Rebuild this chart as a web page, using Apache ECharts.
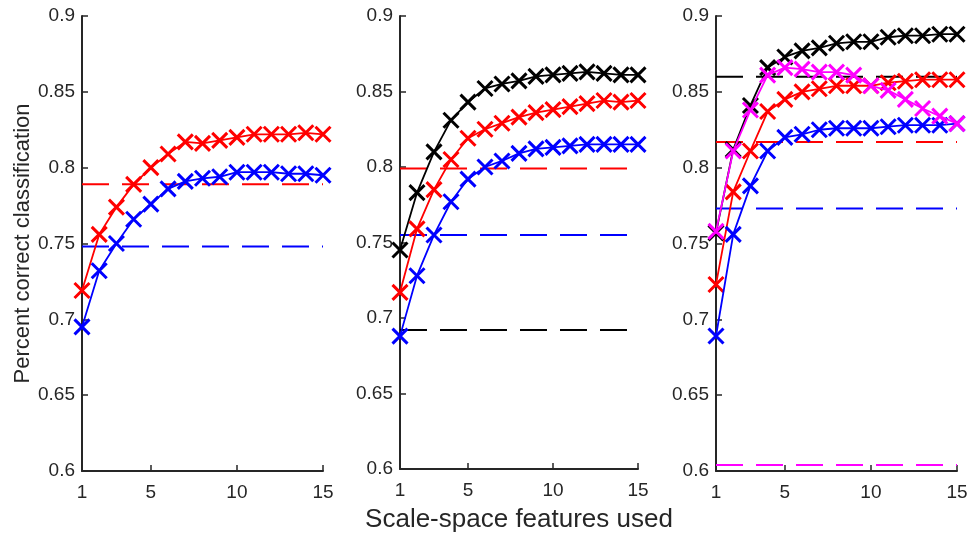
<!DOCTYPE html>
<html>
<head>
<meta charset="utf-8">
<script src="https://cdn.jsdelivr.net/npm/echarts@6/dist/echarts.min.js"></script>
<style>
  html, body { margin: 0; padding: 0; background: #ffffff; }
  #chart { width: 979px; height: 538px; }
</style>
</head>
<body>
<div id="chart"></div>
<script>
// ---- data ----
const features = [1, 2, 3, 4, 5, 6, 7, 8, 9, 10, 11, 12, 13, 14, 15];
const xTickValues = [1, 5, 10, 15];
const yTickLabels = ['0.6', '0.65', '0.7', '0.75', '0.8', '0.85', '0.9'];

// Panel 1
const p1Red  = [0.719, 0.756, 0.774, 0.789, 0.800, 0.809, 0.817, 0.816, 0.818, 0.820, 0.822, 0.822, 0.822, 0.823, 0.822];
const p1Blue = [0.695, 0.732, 0.750, 0.766, 0.776, 0.786, 0.791, 0.793, 0.794, 0.797, 0.797, 0.797, 0.796, 0.796, 0.795];
const p1BaseRed = 0.789;
const p1BaseBlue = 0.748;

// Panel 2
const p2Black = [0.745, 0.783, 0.810, 0.831, 0.843, 0.852, 0.855, 0.857, 0.860, 0.861, 0.862, 0.863, 0.862, 0.861, 0.861];
const p2Red   = [0.717, 0.759, 0.785, 0.805, 0.819, 0.825, 0.829, 0.833, 0.836, 0.838, 0.840, 0.842, 0.844, 0.843, 0.844];
const p2Blue  = [0.688, 0.728, 0.755, 0.777, 0.792, 0.800, 0.804, 0.809, 0.812, 0.813, 0.814, 0.815, 0.815, 0.815, 0.815];
const p2BaseRed = 0.799;
const p2BaseBlue = 0.755;
const p2BaseBlack = 0.692;

// Panel 3
const p3Black   = [0.757, 0.812, 0.841, 0.866, 0.873, 0.877, 0.879, 0.882, 0.883, 0.883, 0.886, 0.887, 0.887, 0.888, 0.888];
const p3Red     = [0.723, 0.784, 0.811, 0.837, 0.845, 0.850, 0.852, 0.854, 0.854, 0.854, 0.856, 0.857, 0.858, 0.858, 0.858];
const p3Blue    = [0.689, 0.756, 0.788, 0.811, 0.820, 0.822, 0.825, 0.826, 0.826, 0.826, 0.827, 0.828, 0.828, 0.828, 0.829];
const p3Magenta = [0.758, 0.811, 0.838, 0.861, 0.866, 0.865, 0.863, 0.863, 0.861, 0.854, 0.851, 0.845, 0.839, 0.834, 0.829];
const p3BaseBlack = 0.860;
const p3BaseRed = 0.817;
const p3BaseBlue = 0.773;
const p3BaseMagenta = 0.604;

// ---- styling ----
const RED = '#ff0000', BLUE = '#0000ff', BLACK = '#000000', MAGENTA = '#ff00ff';
const AXIS = '#262626';
const FONT = '"Liberation Sans", Arial, Helvetica, sans-serif';
const CROSS = 'path://M0,0L10,10M10,0L0,10';

function curve(idx, values, color, z) {
  return {
    type: 'line', xAxisIndex: idx, yAxisIndex: idx,
    data: features.map((f, i) => [f, values[i]]),
    symbol: CROSS, symbolSize: 15, showAllSymbol: true,
    lineStyle: { color: color, width: 1.8 },
    itemStyle: { color: color, borderColor: color, borderWidth: 3 },
    z: z, silent: true, animation: false
  };
}
function baseline(idx, value, color) {
  return {
    type: 'line', xAxisIndex: idx, yAxisIndex: idx,
    data: [[features[0], value], [features[features.length - 1], value]],
    symbol: 'none',
    lineStyle: { color: color, width: 2, type: [27, 13] },
    z: 1, silent: true, animation: false
  };
}

const grids = [
  { left: 82, top: 16, width: 241, height: 455 },
  { left: 400, top: 16, width: 238, height: 455 },
  { left: 716, top: 16, width: 241, height: 455 }
];

function xAxisDef(i) {
  const ax = {
    type: 'value', gridIndex: i, min: 1, max: 15,
    axisLine: { show: true, lineStyle: { color: AXIS, width: 2 } },
    axisTick: { show: true, inside: true, length: 6, customValues: xTickValues, lineStyle: { color: AXIS, width: 1.5 } },
    axisLabel: { customValues: xTickValues, color: AXIS, fontSize: 19, fontFamily: FONT, margin: 12 },
    splitLine: { show: false }
  };
  if (i === 1) {
    ax.name = 'Scale-space features used';
    ax.nameLocation = 'middle';
    ax.nameGap = 38;
    ax.nameTextStyle = { color: AXIS, fontSize: 26, fontFamily: FONT };
  }
  return ax;
}
function yAxisDef(i) {
  const ax = {
    type: 'value', gridIndex: i, min: 0.6, max: 0.9, interval: 0.05,
    axisLine: { show: true, lineStyle: { color: AXIS, width: 2 } },
    axisTick: { show: true, inside: true, length: 6, lineStyle: { color: AXIS, width: 1.5 } },
    axisLabel: {
      color: AXIS, fontSize: 19, fontFamily: FONT, margin: 7,
      formatter: function (v) { return yTickLabels[Math.round((v - 0.6) / 0.05)]; }
    },
    splitLine: { show: false }
  };
  if (i === 0) {
    ax.name = 'Percent correct classification';
    ax.nameLocation = 'middle';
    ax.nameRotate = 90;
    ax.nameGap = 48;
    ax.nameTextStyle = { color: AXIS, fontSize: 22, fontFamily: FONT };
  }
  return ax;
}

const option = {
  backgroundColor: '#ffffff',
  animation: false,
  grid: grids,
  xAxis: [xAxisDef(0), xAxisDef(1), xAxisDef(2)],
  yAxis: [yAxisDef(0), yAxisDef(1), yAxisDef(2)],
  series: [
    baseline(0, p1BaseRed, RED),
    baseline(0, p1BaseBlue, BLUE),
    curve(0, p1Red, RED, 3),
    curve(0, p1Blue, BLUE, 4),

    baseline(1, p2BaseRed, RED),
    baseline(1, p2BaseBlue, BLUE),
    baseline(1, p2BaseBlack, BLACK),
    curve(1, p2Black, BLACK, 3),
    curve(1, p2Red, RED, 4),
    curve(1, p2Blue, BLUE, 5),

    baseline(2, p3BaseBlack, BLACK),
    baseline(2, p3BaseRed, RED),
    baseline(2, p3BaseBlue, BLUE),
    baseline(2, p3BaseMagenta, MAGENTA),
    curve(2, p3Black, BLACK, 3),
    curve(2, p3Red, RED, 4),
    curve(2, p3Blue, BLUE, 5),
    curve(2, p3Magenta, MAGENTA, 6)
  ]
};

const chart = echarts.init(document.getElementById('chart'), null, { renderer: 'canvas' });
chart.setOption(option);
</script>
</body>
</html>
